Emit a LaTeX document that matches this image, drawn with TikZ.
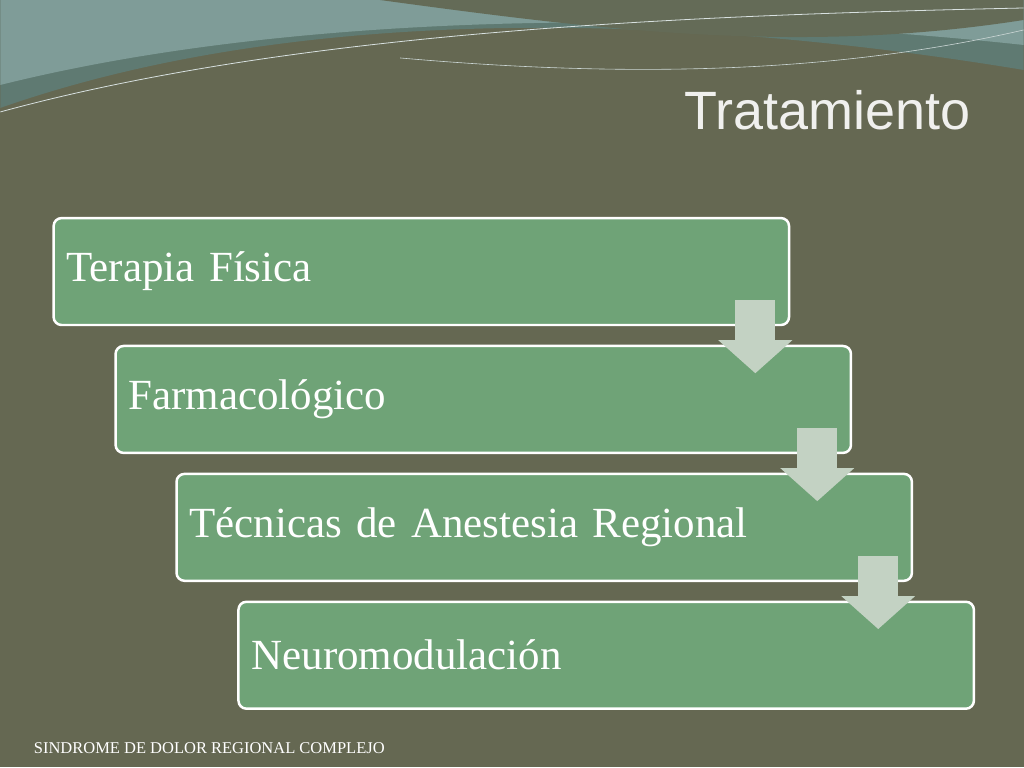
\documentclass[tikz,border=0pt]{standalone}
\usepackage{fontspec}
\setmainfont{Liberation Serif}
\newfontfamily\titlefont{Liberation Sans}
\usetikzlibrary{calc}
\definecolor{bgolive}{HTML}{656852}
\definecolor{boxgreen}{HTML}{6FA377}
\definecolor{arrowgrey}{HTML}{C3D2C3}
\definecolor{wavedark}{HTML}{5F7A72}
\definecolor{wavelight}{HTML}{7F9C98}
\tikzset{%
  stepbox/.style={draw=white,line width=2.5pt,fill=boxgreen,rounded corners=8pt,
    minimum width=736pt,minimum height=107pt,anchor=north west,
    text=white,font=\fontsize{43}{48}\selectfont,align=left,text width=710pt,inner xsep=13pt},
  downarrow/.style={fill=arrowgrey,draw=none}
}
\newcommand\DownArrow[1]{% block arrow hanging below box #1
  \fill[downarrow] ($(#1.south east)+(-55,-26)$) rectangle ($(#1.south east)+(-15,14)$);
  \fill[downarrow] ($(#1.south east)+(-72,14)$) -- ($(#1.south east)+(2,14)$)
    -- ($(#1.south east)+(-35,47)$) -- cycle;
}
\begin{document}
\begin{tikzpicture}[x=1pt,y=-1pt]
  \fill[bgolive] (0,0) rectangle (1024,768);
  % waves at the top
  \fill[wavedark] (0,0) -- (0,108) .. controls (250,20) and (600,0) .. (1024,70) -- (1024,0) -- cycle;
  \fill[wavelight] (0,0) -- (0,85) .. controls (300,10) and (700,10) .. (1024,45) -- (1024,0) -- cycle;
  \fill[bgolive!85!wavedark] (380,0) .. controls (600,30) and (800,55) .. (1024,20) -- (1024,0) -- cycle;
  \draw[white!70!wavelight,line width=0.8pt] (0,112) .. controls (300,30) and (700,15) .. (1024,8);
  \draw[white!60!wavelight,line width=0.6pt] (400,58) .. controls (650,80) and (850,70) .. (1024,30);
  \node[anchor=east,text=white!90!bgolive,font=\titlefont\fontsize{54}{60}\selectfont] (title) at (974,110) {Tratamiento};

  \node[stepbox] (fisica) at (52,217) {Terapia Física};
  \node[stepbox] (farmaco) at (114,345) {Farmacológico};
  \node[stepbox] (tecnicas) at (175,473) {Técnicas de Anestesia Regional};
  \node[stepbox] (neuro) at (237,601) {Neuromodulación};

  \DownArrow{fisica}
  \DownArrow{farmaco}
  \DownArrow{tecnicas}

  \node[anchor=west,text=white,font=\fontsize{16.5}{18}\selectfont] (footer) at (30,749) {SINDROME DE DOLOR REGIONAL COMPLEJO};
\end{tikzpicture}
\end{document}
